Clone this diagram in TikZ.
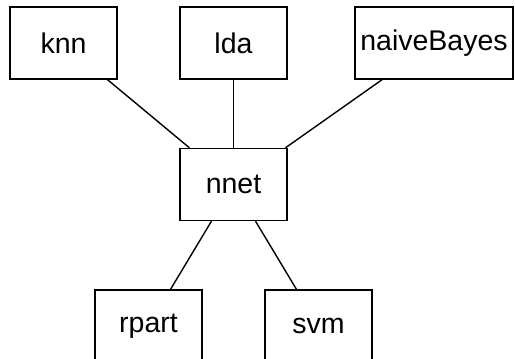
\documentclass[tikz,border=0pt]{standalone}
\usepackage{fontspec}
\setmainfont{Liberation Sans}
\usetikzlibrary{positioning}

\begin{document}
\begin{tikzpicture}[x=1pt,y=-1pt,line width=1.4pt,
    model/.style={draw,rectangle,inner sep=0pt,minimum width=107pt,minimum height=72pt,font=\fontsize{28.5}{34}\selectfont}]
        \useasboundingbox (0,0) rectangle (515,359);
        \node[model] (knn) at (63.5,43) {knn};
        \node[model] (lda) at (233.5,43) {lda};
        \node[model,minimum width=158pt] (naiveBayes) at (434,43) {naiveBayes};
        \node[model] (nnet) at (233.5,184.5) {nnet};
        \node[model] (rpart) at (148.5,326) {rpart};
        \node[model] (svm) at (318.5,326) {svm};
        \draw (knn) -- (nnet);
        \draw (lda) -- (nnet);
        \draw (naiveBayes) -- (nnet);
        \draw (nnet) -- (rpart);
        \draw (nnet) -- (svm);
    \end{tikzpicture}
\end{document}
